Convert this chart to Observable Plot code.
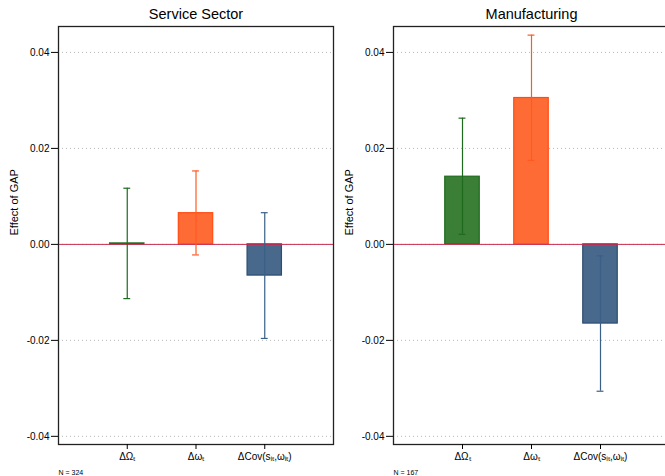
<!DOCTYPE html>
<html>
<head>
<meta charset="utf-8">
<script src="https://cdn.jsdelivr.net/npm/d3@7"></script>
<script src="https://cdn.jsdelivr.net/npm/@observablehq/plot@0.6"></script>
<style>
  html, body { margin: 0; padding: 0; background: #fff; }
  #wrap { position: relative; width: 665px; height: 476px; overflow: hidden; }
  .panel { position: absolute; top: 0; }
  .panel svg { max-width: none !important; display: block; }
</style>
</head>
<body>
<div id="wrap">
  <div class="panel" id="left" style="left:0px; width:335px"></div>
  <div class="panel" id="right" style="left:335px; width:334px"></div>
</div>
<script>
// ---- data ----
const categories = ["ΔΩₜ", "Δωₜ", "ΔCov(sᵢₜ,ωᵢₜ)"];
const positions = [1, 2, 3];
const fills = ["#3a7f35", "#ff6b35", "#48698c"];
const strokes = ["#1e6b1e", "#ff4d12", "#2c4d70"];
const errColors = ["#1e6b1e", "#ff5a24", "#3a6088"];

const panelTitles = ["Service Sector", "Manufacturing"];
const panelN = ["N = 324", "N = 167"];

const serviceValues = [0.0002, 0.0065, -0.0065];
const serviceLow    = [-0.0113, -0.0022, -0.0196];
const serviceHigh   = [0.0117, 0.0153, 0.0066];

const manufValues = [0.0141, 0.0305, -0.0165];
const manufLow    = [0.0021, 0.0175, -0.0306];
const manufHigh   = [0.0263, 0.0436, -0.0024];

const yTicks = [0.04, 0.02, 0.00, -0.02, -0.04];
const yDomain = [-0.0417, 0.0454];

const font = "'Liberation Sans', Arial, Helvetica, sans-serif";

function makePanel(title, nLabel, values, low, high, width, marginRight) {
  const data = categories.map((c, i) => ({
    cat: c, pos: positions[i], value: values[i], lo: low[i], hi: high[i],
    fill: fills[i], stroke: strokes[i], err: errColors[i]
  }));
  return Plot.plot({
    width, height: 476,
    marginLeft: 58, marginRight, marginTop: 26, marginBottom: 32,
    style: { fontFamily: font, fontSize: "10px", color: "#000", background: "#fff", maxWidth: "none" },
    x: { domain: [0, 4], axis: null },
    y: { domain: yDomain, axis: null },
    marks: [
      Plot.gridY(yTicks, { stroke: "#b8b8b8", strokeOpacity: 1, strokeDasharray: "1,3" }),
      Plot.rectY(data, {
        x1: d => d.pos - 0.25, x2: d => d.pos + 0.25, y1: 0, y2: "value",
        fill: d => d.fill, stroke: d => d.stroke, strokeWidth: 1.2
      }),
      Plot.ruleY([0], { stroke: "#c8284e", strokeWidth: 1 }),
      Plot.ruleX(data, { x: "pos", y1: "lo", y2: "hi", stroke: d => d.err, strokeWidth: 1.2 }),
      Plot.ruleY(data, { y: "hi", x1: d => d.pos - 0.05, x2: d => d.pos + 0.05, stroke: d => d.err, strokeWidth: 1.2 }),
      Plot.ruleY(data, { y: "lo", x1: d => d.pos - 0.05, x2: d => d.pos + 0.05, stroke: d => d.err, strokeWidth: 1.2 }),
      Plot.frame({ stroke: "#222", strokeWidth: 1.3 }),
      Plot.axisY(yTicks, {
        anchor: "left", tickSize: 7, tickPadding: 2,
        tickFormat: d => d.toFixed(2),
        label: null, fontSize: 10
      }),
      Plot.text(["Effect of GAP"], {
        frameAnchor: "left", dx: -44, rotate: -90, fontSize: 11, fill: "#000"
      }),
      Plot.axisX(positions, {
        anchor: "bottom", tickSize: 5, tickPadding: 3,
        tickFormat: d => categories[positions.indexOf(d)],
        label: null, fontSize: 10
      }),
      Plot.text([title], { frameAnchor: "top", lineAnchor: "middle", dy: -12, fontSize: 14.5, fill: "#000" }),
      Plot.text([nLabel], { frameAnchor: "bottom-left", lineAnchor: "middle", dy: 28, fontSize: 7, textAnchor: "start", fill: "#000" })
    ]
  });
}

document.getElementById("left").appendChild(
  makePanel(panelTitles[0], panelN[0], serviceValues, serviceLow, serviceHigh, 335, 2));
document.getElementById("right").appendChild(
  makePanel(panelTitles[1], panelN[1], manufValues, manufLow, manufHigh, 334, 0));
</script>
</body>
</html>
